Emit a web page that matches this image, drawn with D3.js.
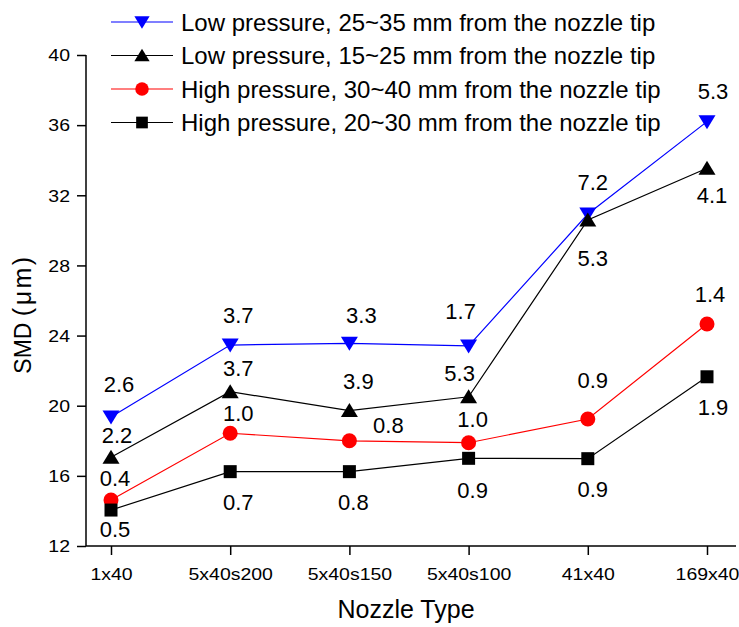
<!DOCTYPE html>
<html>
<head>
<meta charset="utf-8">
<script src="https://cdn.jsdelivr.net/npm/d3@7"></script>
<style>
  html, body { margin: 0; padding: 0; background: #fff; }
  svg { display: block; font-family: "Liberation Sans", Arial, sans-serif; }
</style>
</head>
<body>
<svg id="chart" width="739" height="627"></svg>
<script>
// Nozzle types along the x axis
const nozzles = ["1x40", "5x40s200", "5x40s150", "5x40s100", "41x40", "169x40"];

// SMD (µm) for each measuring condition
const lowFar   = [19.36, 23.46, 23.56, 23.41, 30.93, 36.2];   // Low pressure, 25~35 mm
const lowNear  = [17.06, 20.8, 19.72, 20.51, 30.59, 33.54];   // Low pressure, 15~25 mm
const highFar  = [14.62, 18.43, 18.0, 17.89, 19.24, 24.66];   // High pressure, 30~40 mm
const highNear = [14.05, 16.24, 16.24, 17.0, 16.98, 21.65];   // High pressure, 20~30 mm

// Annotated spread next to each point
const lowFarLbl   = ["2.6", "3.7", "3.3", "1.7", "7.2", "5.3"];
const lowNearLbl  = ["2.2", "3.7", "3.9", "5.3", "5.3", "4.1"];
const highFarLbl  = ["0.4", "1.0", "0.8", "1.0", "0.9", "1.4"];
const highNearLbl = ["0.5", "0.7", "0.8", "0.9", "0.9", "1.9"];

const yTicks = [12, 16, 20, 24, 28, 32, 36, 40];

// Label placement relative to the marker (layout only)
const lowFarOff   = [[8,-32],[8,-30],[12,-28],[-8,-34],[5,-32],[6,-30]];
const lowNearOff  = [[6,-22],[8,-23],[9,-29],[-9,-23],[5,38],[5,27]];
const highFarOff  = [[4,-22],[8,-20],[39,-15],[4,-23],[5,-39],[3,-29]];
const highNearOff = [[4,19],[8,31],[4,31],[4,32],[5,31],[6,31]];

const series = [
  { name: "Low pressure, 25~35 mm from the nozzle tip",  values: lowFar,   labels: lowFarLbl,   off: lowFarOff,   color: "#0000ff", shape: "down" },
  { name: "Low pressure, 15~25 mm from the nozzle tip",  values: lowNear,  labels: lowNearLbl,  off: lowNearOff,  color: "#000000", shape: "up" },
  { name: "High pressure, 30~40 mm from the nozzle tip", values: highFar,  labels: highFarLbl,  off: highFarOff,  color: "#ff0000", shape: "circle" },
  { name: "High pressure, 20~30 mm from the nozzle tip", values: highNear, labels: highNearLbl, off: highNearOff, color: "#000000", shape: "square" }
];

const svg = d3.select("#chart");
const axisLeftX = 86, axisBottomY = 546, axisRightX = 736, axisTopY = 55;
const FONT = "'Liberation Sans', Arial, sans-serif";

const x = d3.scalePoint().domain(nozzles).range([111, 707]);
const y = d3.scaleLinear().domain([12, 40]).range([axisBottomY, axisTopY]);

// Marker shapes
function markerPath(shape, k = 1) {
  switch (shape) {
    case "down":   return `M${-8.5*k},${-6.5*k}L${8.5*k},${-6.5*k}L0,${7.5*k}Z`;
    case "up":     return `M${-8.5*k},${6.5*k}L${8.5*k},${6.5*k}L0,${-7.5*k}Z`;
    case "square": return `M${-6.5*k},${-6.5*k}H${6.5*k}V${6.5*k}H${-6.5*k}Z`;
    default:       return d3.arc()({innerRadius: 0, outerRadius: 7.5 * k, startAngle: 0, endAngle: 2 * Math.PI});
  }
}

// Y axis
const yAxis = svg.append("g")
  .attr("transform", `translate(${axisLeftX},0)`)
  .call(d3.axisLeft(y).tickValues(yTicks).tickSize(9).tickFormat(d3.format("d")));
yAxis.select(".domain").attr("stroke-width", 1.5).attr("d", `M0,${axisTopY}V${axisBottomY}`);
yAxis.selectAll(".tick line").attr("stroke-width", 1.5);
yAxis.selectAll("text")
  .attr("x", null).attr("dy", "0.35em")
  .attr("transform", "translate(-16,0) scale(1.18,1)")
  .style("font-size", "16.5px").style("font-family", FONT).attr("fill", "#000");

// X axis
const xAxis = svg.append("g")
  .attr("transform", `translate(0,${axisBottomY})`)
  .call(d3.axisBottom(x).tickSize(9).tickPadding(13));
xAxis.select(".domain").attr("stroke-width", 1.5).attr("d", `M${axisLeftX},0H${axisRightX}`);
xAxis.selectAll(".tick line").attr("stroke-width", 1.5);
xAxis.selectAll("text")
  .attr("transform", "scale(1.18,1)")
  .style("font-size", "16.5px").style("font-family", FONT).attr("fill", "#000");

// Axis titles
const yTitle = svg.append("text")
  .attr("transform", `translate(30.5,314) rotate(-90)`)
  .attr("text-anchor", "middle")
  .style("font-size", "23px").style("font-family", FONT);
yTitle.append("tspan").text("SMD ");
yTitle.append("tspan").attr("letter-spacing", 2.5).style("font-size", "25px").text("(\u03bcm)");

svg.append("text")
  .attr("x", 406).attr("y", 617.5)
  .attr("text-anchor", "middle")
  .style("font-size", "25px").style("font-family", FONT).text("Nozzle Type");

// Lines, markers, annotations
const line = d3.line().x((d, i) => x(nozzles[i])).y(d => y(d));

series.forEach(s => {
  const g = svg.append("g");
  g.append("path").datum(s.values)
    .attr("d", line).attr("fill", "none")
    .attr("stroke", s.color).attr("stroke-width", 1.2);
  g.selectAll("path.mk").data(s.values).join("path").attr("class", "mk")
    .attr("transform", (d, i) => `translate(${x(nozzles[i])},${y(d)})`)
    .attr("d", markerPath(s.shape)).attr("fill", s.color);
  g.selectAll("text").data(s.values).join("text")
    .attr("x", (d, i) => x(nozzles[i]) + s.off[i][0])
    .attr("y", (d, i) => y(d) + s.off[i][1])
    .attr("text-anchor", "middle").attr("dominant-baseline", "central")
    .style("font-size", "22px").style("font-family", FONT).attr("fill", "#000")
    .text((d, i) => s.labels[i]);
});

// Legend
const legend = svg.append("g");
series.forEach((s, i) => {
  const ly = 22 + i * 33.5;
  legend.append("line").attr("x1", 111).attr("x2", 173).attr("y1", ly).attr("y2", ly)
    .attr("stroke", s.color).attr("stroke-width", 1.2);
  legend.append("path").attr("transform", `translate(142,${ly})`)
    .attr("d", markerPath(s.shape, 0.9)).attr("fill", s.color);
  legend.append("text").attr("x", 181).attr("y", ly)
    .attr("dominant-baseline", "central")
    .style("font-size", "24px").style("font-family", FONT).attr("fill", "#000")
    .text(s.name);
});
</script>
</body>
</html>
